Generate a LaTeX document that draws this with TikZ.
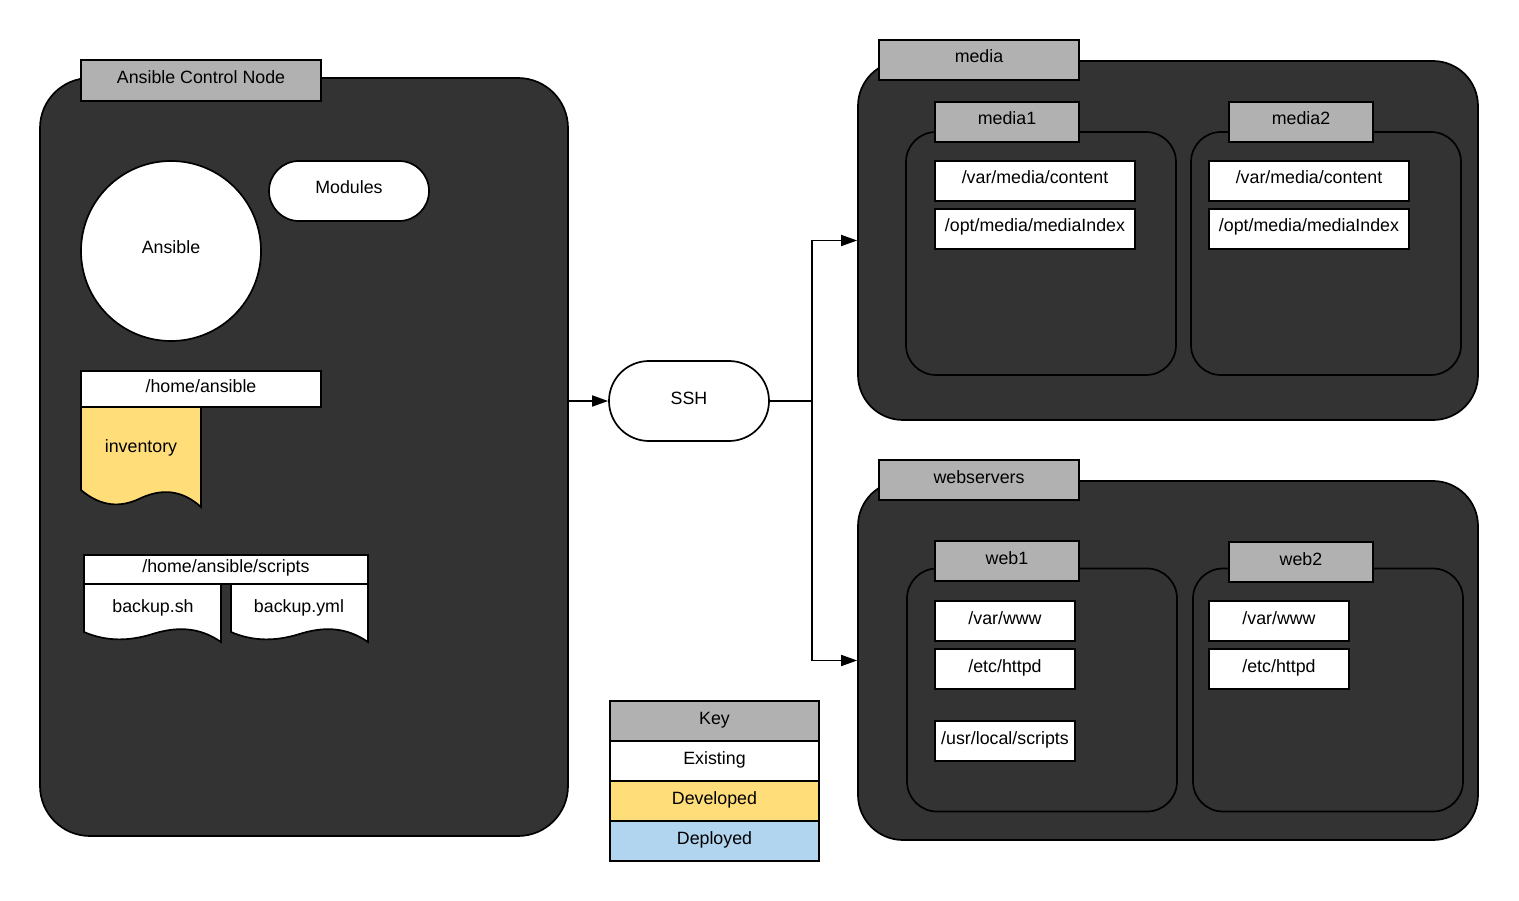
\documentclass[tikz,border=0pt]{standalone}
\usepackage{fontspec}
\setmainfont{Liberation Sans}
\usetikzlibrary{arrows.meta,calc}
\definecolor{dark}{HTML}{333333}
\definecolor{hgray}{HTML}{B1B1B1}
\definecolor{devyellow}{HTML}{FFDE7A}
\definecolor{depblue}{HTML}{B1D4EF}
\begin{document}
\begin{tikzpicture}[x=1pt,y=-1pt,line width=1.7pt,
  every node/.style={font=\fontsize{17.8}{20}\selectfont,inner sep=0pt,text=black,
    text height=13,text depth=7},
  sz/.style 2 args={minimum width=#1,minimum height=#2},
  container/.style={draw=black,fill=dark,rounded corners=#1},
  container/.default=48,
  hdr/.style={draw=black,fill=hgray},
  wbox/.style={draw=black,fill=white},
  pill/.style={draw=black,fill=white,rounded corners=#1},
  docshape/.style={draw=black,line join=miter},
  arr/.style={draw=black,-{Triangle[length=16,width=11]}},
  keyrow/.style={draw=black,sz={209}{40}}
]
\useasboundingbox (0,0) rectangle (1519,901);

% ---------- Ansible control node ----------
\node[container=50,sz={528}{758}] (cn) at (304,457) {};
\node[hdr,sz={240}{41}] (cnh) at (201,80.5) {Ansible Control Node};
\node[circle,draw=black,fill=white,minimum size=180] (ansible) at (171,251) {Ansible};
\node[pill=30,sz={160}{60}] (modules) at (349,191) {Modules};

% inventory document
\draw[docshape,fill=devyellow] (81,407) -- (201,407) -- (201,507)
  .. controls (181,489) and (161,489) .. (141,498)
  .. controls (121,508) and (101,507) .. (81,490) -- cycle;
\node (inventory) at (141,449) {inventory};
\node[wbox,sz={240}{36}] (home) at (201,389) {/home/ansible};

% scripts documents
\draw[docshape,fill=white] (84,584) -- (221,584) -- (221,642)
  .. controls (198,626) and (175,627) .. (152.5,634)
  .. controls (130,641) and (107,642) .. (84,632) -- cycle;
\node (backupsh) at (153,609) {backup.sh};
\draw[docshape,fill=white] (231,584) -- (368,584) -- (368,642)
  .. controls (345,626) and (322,627) .. (299.5,634)
  .. controls (277,641) and (254,642) .. (231,632) -- cycle;
\node (backupyml) at (299,609) {backup.yml};
\node[wbox,sz={284}{29}] (scripts) at (226,569.5) {/home/ansible/scripts};

% ---------- SSH ----------
\node[pill=40,sz={160}{80}] (ssh) at (689,401) {SSH};

% ---------- media ----------
\node[container=45,sz={620}{359}] (media) at (1168,240.5) {};
\node[hdr,sz={200}{40}] (mediah) at (979,60) {media};

\node[container=30,sz={270}{243}] (m1) at (1041,253.5) {};
\node[hdr,sz={144}{40}] (m1h) at (1007,122) {media1};
\node[wbox,sz={200}{40}] (m1a) at (1035,181) {/var/media/content};
\node[wbox,sz={200}{40}] (m1b) at (1035,229) {/opt/media/mediaIndex};

\node[container=30,sz={270}{243}] (m2) at (1326,253.5) {};
\node[hdr,sz={144}{40}] (m2h) at (1301,122) {media2};
\node[wbox,sz={200}{40}] (m2a) at (1309,181) {/var/media/content};
\node[wbox,sz={200}{40}] (m2b) at (1309,229) {/opt/media/mediaIndex};

% ---------- webservers ----------
\node[container=45,sz={620}{359}] (web) at (1168,660.5) {};
\node[hdr,sz={200}{40}] (webh) at (979,480) {webservers};

\node[container=30,sz={270}{243}] (w1) at (1042,690) {};
\node[hdr,sz={144}{40}] (w1h) at (1007,561) {web1};
\node[wbox,sz={140}{40}] (w1a) at (1005,621) {/var/www};
\node[wbox,sz={140}{40}] (w1b) at (1005,669) {/etc/httpd};
\node[wbox,sz={140}{40}] (w1c) at (1005,741) {/usr/local/scripts};

\node[container=30,sz={270}{243}] (w2) at (1328,690) {};
\node[hdr,sz={144}{40}] (w2h) at (1301,562) {web2};
\node[wbox,sz={140}{40}] (w2a) at (1279,621) {/var/www};
\node[wbox,sz={140}{40}] (w2b) at (1279,669) {/etc/httpd};

% ---------- key ----------
\node[keyrow,fill=hgray] (key) at (714.5,721) {Key};
\node[keyrow,fill=white] (kexist) at (714.5,761) {Existing};
\node[keyrow,fill=devyellow] (kdev) at (714.5,801) {Developed};
\node[keyrow,fill=depblue] (kdep) at (714.5,841) {Deployed};

% ---------- connectors ----------
\coordinate (split) at (812,401);
\draw[arr] (ssh.west -| cn.east) -- (ssh.west);
\draw[arr] (ssh.east) -- (split) |- (media.west);
\draw[arr] (ssh.east) -- (split) |- (web.west);
\end{tikzpicture}
\end{document}
